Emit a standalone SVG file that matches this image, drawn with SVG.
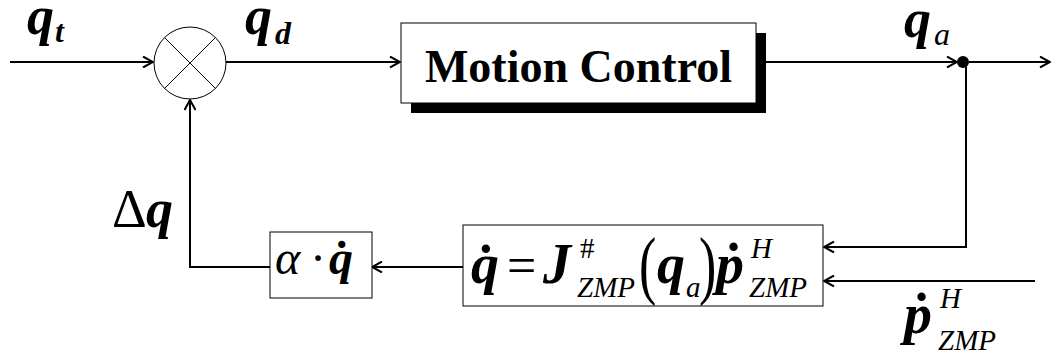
<svg xmlns="http://www.w3.org/2000/svg" width="1058" height="360" viewBox="0 0 1058 360">
<style>
.ln{fill:none;stroke:#000;stroke-width:2}
.bx{fill:#fff;stroke:#000;stroke-width:1}
.t{font-family:"Liberation Serif","Times New Roman",serif;fill:#000}
.bi{font-weight:bold;font-style:italic}
.i{font-style:italic}
.b{font-weight:bold}
</style>
<defs>
<marker id="ah" markerWidth="12" markerHeight="12" refX="11" refY="6" orient="auto" markerUnits="userSpaceOnUse">
<path d="M1,0.5 L11,6 L1,11.5" fill="none" stroke="#000" stroke-width="2"/>
</marker>
</defs>
<rect width="1058" height="360" fill="#fff"/>
<g id="connectors">
<path class="ln" d="M10,62 H153" marker-end="url(#ah)"/>
<path class="ln" d="M226,62 H400" marker-end="url(#ah)"/>
<path class="ln" d="M756,62 H957" marker-end="url(#ah)"/>
<path class="ln" d="M969,62 H1050" marker-end="url(#ah)"/>
<path class="ln" d="M966,62 V247 H824" marker-end="url(#ah)"/>
<path class="ln" d="M1035,281 H824" marker-end="url(#ah)"/>
<path class="ln" d="M463,267 H372" marker-end="url(#ah)"/>
<path class="ln" d="M270,267 H190 V100" marker-end="url(#ah)"/>
</g>
<g id="sum">
<circle cx="190" cy="63" r="36" fill="#fff" stroke="#000" stroke-width="1"/>
<path d="M164.5,37.5 L215.5,88.5 M215.5,37.5 L164.5,88.5" stroke="#000" stroke-width="1"/>
</g>
<g id="junction"><circle cx="963" cy="62" r="6" fill="#000"/></g>
<g id="motion-control">
<rect x="411" y="33" width="355" height="80" fill="#000"/>
<rect class="bx" x="401" y="23" width="355" height="80"/>
<text class="t b" x="578.5" y="82" font-size="46" text-anchor="middle">Motion Control</text>
</g>
<g id="alpha-box">
<rect class="bx" x="270" y="232" width="102" height="66"/>
<text class="t i" x="275" y="274" font-size="48">α</text>
<text class="t" x="318" y="274" font-size="48" text-anchor="middle">·</text>
<text class="t bi" x="329" y="274" font-size="48">q&#x307;</text>
</g>
<g id="jacobian-box">
<rect class="bx" x="463" y="225" width="360" height="81"/>
<text class="t bi" x="471" y="283" font-size="56">q&#x307;</text>
<text class="t" x="507" y="283" font-size="52">=</text>
<text class="t bi" x="543" y="283" font-size="56">J</text>
<text class="t" x="580" y="258" font-size="29">#</text>
<text class="t i" x="577" y="297" font-size="29">ZMP</text>
<text class="t" transform="translate(639,290) scale(1,1.45)" font-size="52">(</text>
<text class="t bi" x="657" y="283" font-size="56">q</text>
<text class="t i" x="686" y="297" font-size="29">a</text>
<text class="t" transform="translate(699,290) scale(1,1.45)" font-size="52">)</text>
<text class="t bi" x="716" y="283" font-size="56">p&#x307;</text>
<text class="t i" x="751" y="258" font-size="29">H</text>
<text class="t i" x="749" y="297" font-size="29">ZMP</text>
</g>
<g id="labels">
<text class="t bi" x="27" y="34" font-size="54">q</text>
<text class="t bi" x="55" y="42" font-size="32">t</text>
<text class="t bi" x="245" y="34" font-size="54">q</text>
<text class="t bi" x="275" y="44" font-size="32">d</text>
<text class="t bi" x="904" y="37" font-size="54">q</text>
<text class="t i" x="934" y="45" font-size="32">a</text>
<text class="t" x="112" y="227" font-size="54">Δ</text>
<text class="t bi" x="146" y="227" font-size="54">q</text>
<text class="t bi" x="904" y="333" font-size="56">p&#x307;</text>
<text class="t i" x="940" y="308" font-size="29">H</text>
<text class="t i" x="938" y="350" font-size="29">ZMP</text>
</g>
</svg>
